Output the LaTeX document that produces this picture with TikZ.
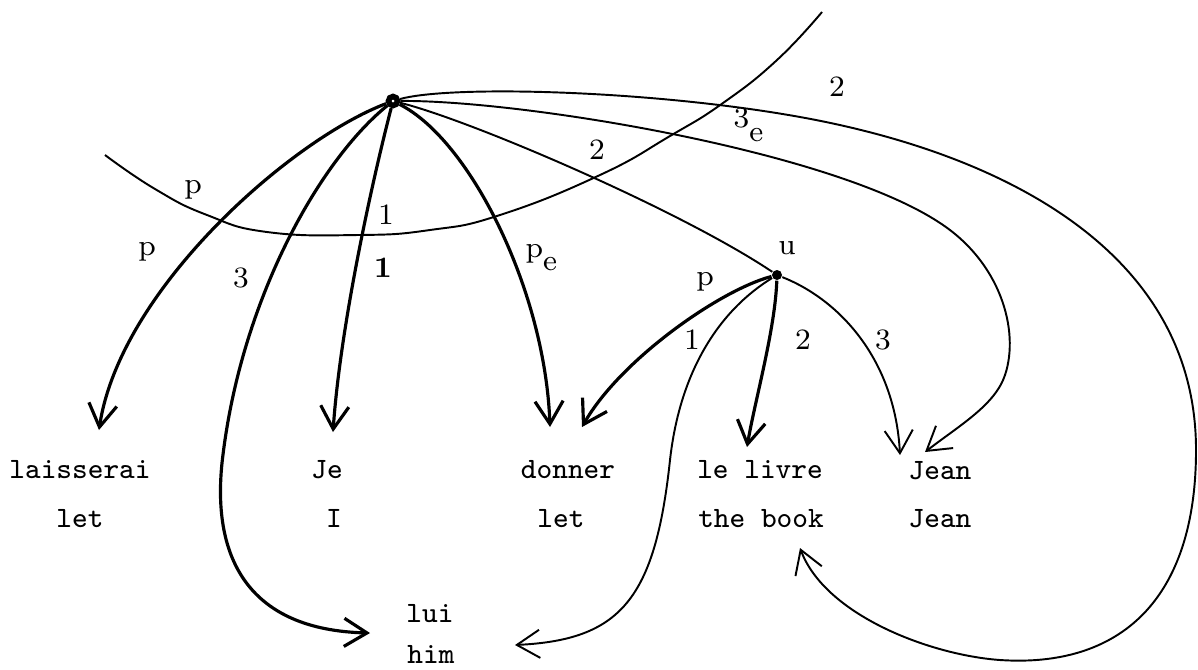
\documentclass[tikz,border=0pt]{standalone}
\usetikzlibrary{arrows.meta,calc}
\begin{document}
\begin{tikzpicture}[x=0.01cm,y=-0.01cm,
  word/.style={font=\fontsize{8.4}{10}\selectfont\ttfamily, inner sep=0pt, anchor=base},
  lab/.style={font=\fontsize{8.4}{10}\selectfont\rmfamily, inner sep=0pt},
  thin/.style={line width=0.55pt},
  thk/.style={line width=0.9pt},
  arr/.style={-{Straight Barb[length=6.5pt,width=8pt]}},
  bnd/.style={line width=0.55pt},
]
\useasboundingbox (0,0) rectangle (1198,669);

% branching points
\node[draw, circle, line width=1.6pt, minimum size=0.09cm, inner sep=0pt] (R) at (393,101) {};
\node[circle, fill, minimum size=0.1cm, inner sep=0pt] (U) at (777,275) {};

% words
\node[word] (lais)   at (80,478)  {laisserai};
\node[word] (laisE)  at (80,527)  {let};
\node[word] (je)     at (327,478) {Je};
\node[word] (jeE)    at (334,527) {I};
\node[word] (donner) at (568,478) {donner};
\node[word] (donE)   at (561,527) {let};
\node[word] (livre)  at (760,478) {le livre};
\node[word] (book)   at (761,527) {the book};
\node[word] (jean)   at (940,479) {Jean};
\node[word] (jeanE)  at (940,527) {Jean};
\node[word] (lui)    at (430,622) {lui};
\node[word] (him)    at (431,663) {him};

% boundary curve
\draw[bnd] plot[smooth,tension=0.8] coordinates {(105,155) (155,189) (207,215) (267,232) (358,235) (430,230) (500,215) (600,175) (670,136) (723,103) (777,60) (822,12)};

% edges from the root
\draw[thk,arr] (R) .. controls (290,140) and (120,290) .. ($(lais.base)+(19,-48)$);
\draw[thk,arr] (R) .. controls (320,160) and (240,300) .. (222,463) .. controls (212,560) and (250,630) .. ($(lui.base)+(-60,11)$);
\draw[thk,arr] (R) .. controls (370,190) and (340,330) .. ($(je.base)+(6,-46)$);
\draw[thk,arr] (R) .. controls (470,140) and (545,290) .. ($(donner.base)+(-18,-51)$);
\draw[thin] (R) .. controls (470,120) and (680,210) .. (U);
\draw[thin,arr] (R) .. controls (520,100) and (830,150) .. (940,223) .. controls (1000,262) and (1020,330) .. (1005,375) .. controls (995,405) and (960,425) .. ($(jean.base)+(-15,-27)$);
\draw[thin,arr] (R) .. controls (450,85) and (650,90) .. (800,117) .. controls (1000,153) and (1196,250) .. (1196,450) .. controls (1196,600) and (1120,668) .. (1000,660) .. controls (930,655) and (825,615) .. ($(book.base)+(39,21)$);

% edges from u
\draw[thk,arr] (U) .. controls (720,290) and (620,360) .. ($(donner.base)+(14,-51)$);
\draw[thin,arr] (U) .. controls (720,310) and (680,370) .. (670,460) .. controls (655,600) and (620,640) .. ($(lui.base)+(85,23)$);
\draw[thk,arr] (U) .. controls (775,330) and (755,400) .. ($(livre.base)+(-13,-31)$);
\draw[thin,arr] (U) .. controls (840,300) and (895,360) .. ($(jean.base)+(-40,-24)$);

% labels
\node[lab] (lp1) at (193,190) {p};
\node[lab] (lp2) at (147,252) {p};
\node[lab] (l3)  at (241,278) {3};
\node[lab] (l1a) at (386,215) {1};
\node[lab] (l1b) at (383,268) {\textbf{1}};
\node[lab,anchor=base west] (lpe) at (525,257) {p\raisebox{-3.8pt}{e}};
\node[lab] (l2a) at (597,150) {2};
\node[lab,anchor=base west] (l3e) at (733,127) {3\raisebox{-4.2pt}{e}};
\node[lab] (l2b) at (837,87) {2};
\node[lab] (lu)  at (787,248) {u};
\node[lab] (lup) at (705,282) {p};
\node[lab] (lu1) at (692,340) {1};
\node[lab] (lu2) at (803,340) {2};
\node[lab] (lu3) at (883,340) {3};
\end{tikzpicture}
\end{document}
